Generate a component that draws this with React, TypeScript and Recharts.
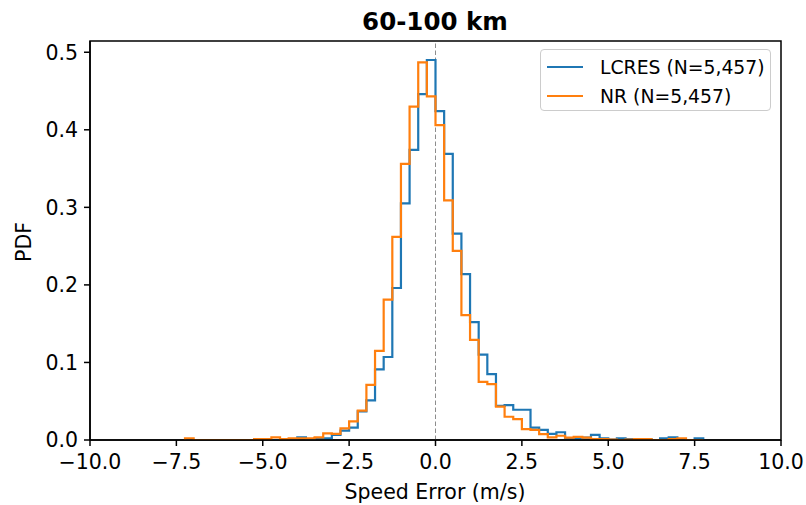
import { ComposedChart, Line, XAxis, YAxis, ReferenceLine, ReferenceArea } from "recharts";

// left edges of the 0.25-wide histogram bins; last bin closes at binRight
const binLeft = [
  -7.25, -7.0, -6.75, -6.5, -6.25, -6.0, -5.75, -5.5, -5.25, -5.0,
  -4.75, -4.5, -4.25, -4.0, -3.75, -3.5, -3.25, -3.0, -2.75, -2.5,
  -2.25, -2.0, -1.75, -1.5, -1.25, -1.0, -0.75, -0.5, -0.25, 0.0,
  0.25, 0.5, 0.75, 1.0, 1.25, 1.5, 1.75, 2.0, 2.25, 2.5,
  2.75, 3.0, 3.25, 3.5, 3.75, 4.0, 4.25, 4.5, 4.75, 5.0,
  5.25, 5.5, 5.75, 6.0, 6.25, 6.5, 6.75, 7.0, 7.25, 7.5,
];
const binRight = 7.75;

const lcres = [
  0, 0, 0, 0, 0, 0, 0, 0, 0, 0,
  0, 0, 0.001, 0.0035, 0.001, 0.002, 0.002, 0.0065, 0.012, 0.016,
  0.037, 0.051, 0.091, 0.107, 0.196, 0.305, 0.374, 0.446, 0.49, 0.424,
  0.369, 0.266, 0.214, 0.152, 0.11, 0.085, 0.044, 0.045, 0.039, 0.039,
  0.016, 0.013, 0.008, 0.01, 0.002, 0.002, 0.003, 0.0065, 0.002, 0.0005,
  0.002, 0.001, 0.001, 0.001, 0, 0.002, 0.0035, 0, 0, 0.002,
];

const nr = [
  0.002, 0, 0, 0, 0, 0, 0, 0, 0.001, 0.001,
  0.0035, 0.001, 0.002, 0.002, 0.002, 0.0035, 0.0085, 0.008, 0.015, 0.024,
  0.038, 0.071, 0.115, 0.181, 0.262, 0.356, 0.43, 0.487, 0.443, 0.406,
  0.309, 0.244, 0.161, 0.129, 0.075, 0.072, 0.043, 0.03, 0.027, 0.014,
  0.013, 0.0075, 0.0035, 0.0055, 0.003, 0.004, 0.003, 0.001, 0.001, 0.0005,
  0, 0.0005, 0.001, 0.001, 0, 0, 0.001, 0.002, 0, 0,
];

const xTicks = [-10, -7.5, -5, -2.5, 0, 2.5, 5, 7.5, 10];
const yTicks = [0, 0.1, 0.2, 0.3, 0.4, 0.5];
const xDomain = [-10, 10];
const yDomain = [0, 0.5145];

const BLUE = "#1f77b4";
const ORANGE = "#ff7f0e";
const FONT = "'DejaVu Sans', sans-serif";

function stepPoints(values: number[]) {
  const pts = [{ x: binLeft[0], y: 0 }];
  values.forEach((v, i) => pts.push({ x: binLeft[i], y: v }));
  pts.push({ x: binRight, y: values[values.length - 1] });
  pts.push({ x: binRight, y: 0 });
  return pts;
}

const fmtX = (v: number) => {
  const s = Math.abs(v).toFixed(1);
  return v < 0 ? `\u2212${s}` : s;
};

const tickStyle = { fill: "#000", fontSize: 20.5, fontFamily: FONT };
const spine = { stroke: "#000", strokeWidth: 1.5 };

export default function App() {
  const blue = stepPoints(lcres);
  const orange = stepPoints(nr);

  return (
    <div style={{ position: "absolute", left: 0, top: 0, width: 806, height: 505, background: "#fff", fontFamily: FONT }}>
      <ComposedChart width={806} height={505} margin={{ top: 41, right: 25, bottom: 0, left: 0 }}>
        <XAxis
          dataKey="x"
          type="number"
          domain={xDomain}
          ticks={xTicks}
          tickFormatter={fmtX}
          allowDataOverflow
          height={65}
          tick={tickStyle}
          tickSize={6}
          tickMargin={8}
          axisLine={spine}
          tickLine={spine}
        />
        <YAxis
          type="number"
          domain={yDomain}
          ticks={yTicks}
          tickFormatter={(v: number) => v.toFixed(1)}
          allowDataOverflow
          width={90}
          tick={tickStyle}
          tickSize={6}
          tickMargin={6}
          axisLine={spine}
          tickLine={spine}
        />
        <ReferenceLine x={0} stroke="#808080" strokeWidth={0.9} strokeDasharray="4.5 2.5" />
        <Line
          data={blue}
          dataKey="y"
          type="stepAfter"
          stroke={BLUE}
          strokeWidth={2.2}
          dot={false}
          activeDot={false}
          isAnimationActive={false}
        />
        <Line
          data={orange}
          dataKey="y"
          type="stepAfter"
          stroke={ORANGE}
          strokeWidth={2.2}
          dot={false}
          activeDot={false}
          isAnimationActive={false}
        />
        <ReferenceArea
          x1={xDomain[0]}
          x2={xDomain[1]}
          y1={yDomain[0]}
          y2={yDomain[1]}
          fill="none"
          fillOpacity={0}
          stroke="#000"
          strokeWidth={1.5}
          ifOverflow="visible"
        />
      </ComposedChart>

      <div style={{ position: "absolute", left: 0, width: 870, top: 7, textAlign: "center", fontSize: 24.5, fontWeight: "bold", lineHeight: "30px" }}>
        60-100 km
      </div>
      <div style={{ position: "absolute", left: 0, width: 870, top: 479, textAlign: "center", fontSize: 20.5, lineHeight: "26px" }}>
        Speed Error (m/s)
      </div>
      <div
        style={{
          position: "absolute",
          left: 24,
          top: 242,
          fontSize: 20.5,
          lineHeight: "26px",
          transform: "translate(-50%, -50%) rotate(-90deg)",
          whiteSpace: "nowrap",
        }}
      >
        PDF
      </div>

      <div
        style={{
          position: "absolute",
          left: 540,
          top: 49,
          width: 229,
          height: 60,
          border: "1px solid #cccccc",
          borderRadius: 4,
          background: "rgba(255,255,255,0.8)",
          fontSize: 18.8,
        }}
      >
        {[
          { name: "LCRES (N=5,457)", color: BLUE },
          { name: "NR (N=5,457)", color: ORANGE },
        ].map((item, i) => (
          <div key={item.name} style={{ position: "absolute", left: 6, top: 5 + i * 29, height: 24, display: "flex", alignItems: "center" }}>
            <div style={{ width: 36, height: 2.2, background: item.color }} />
            <span style={{ marginLeft: 17, whiteSpace: "nowrap" }}>{item.name}</span>
          </div>
        ))}
      </div>
    </div>
  );
}
